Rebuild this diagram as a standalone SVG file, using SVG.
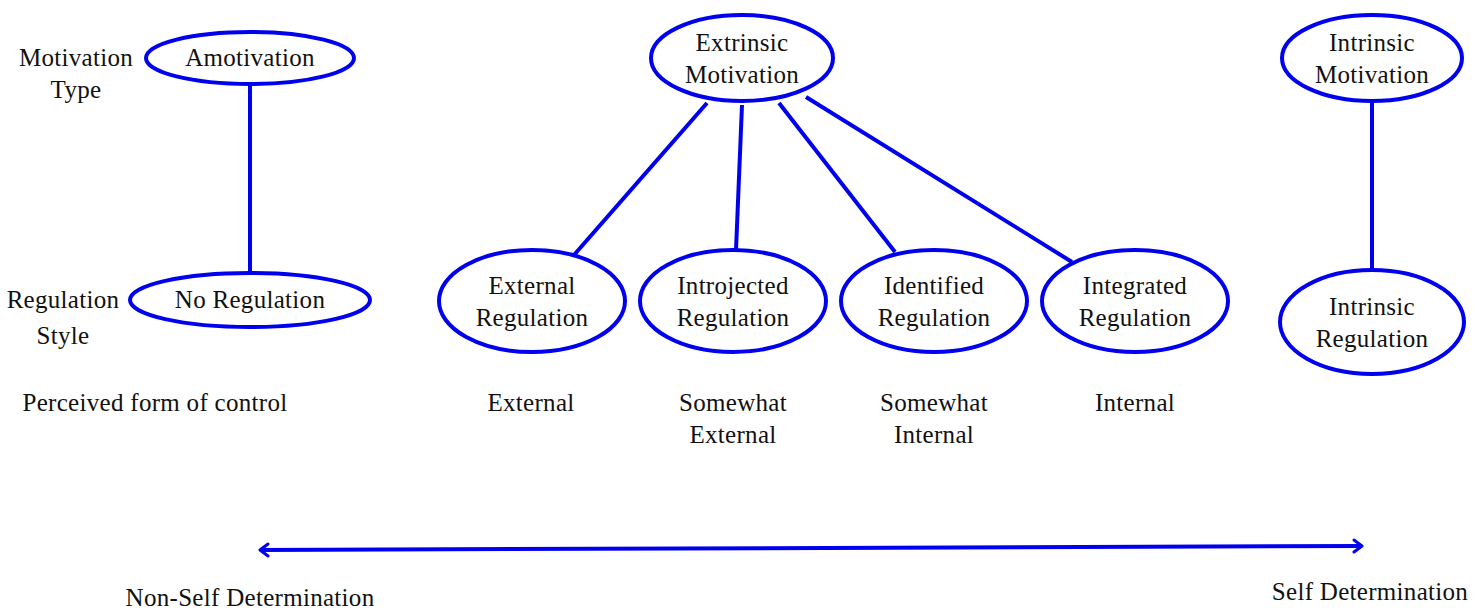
<svg xmlns="http://www.w3.org/2000/svg" width="1475" height="613" viewBox="0 0 1475 613">
  <style>
    .node ellipse { fill: #ffffff; stroke: #0000ee; stroke-width: 4; }
    .edge { stroke: #0000ee; stroke-width: 4; fill: none; }
    text { font-family: "Liberation Serif", "DejaVu Serif", serif; font-size: 25px; letter-spacing: 0.3px; fill: #111111; text-anchor: middle; }
  </style>
  <defs>
    <marker id="chev" viewBox="0 0 12 16" refX="10" refY="8" markerWidth="12" markerHeight="16" markerUnits="userSpaceOnUse" orient="auto-start-reverse">
      <path d="M2,2 L10,8 L2,14" fill="none" stroke="#0000ee" stroke-width="3" stroke-linecap="round" stroke-linejoin="round"/>
    </marker>
  </defs>
  <rect width="1475" height="613" fill="#ffffff"/>

  <!-- connectors -->
  <g id="connectors">
    <line class="edge" x1="250" y1="84" x2="250" y2="273"/>
    <line class="edge" x1="707" y1="103" x2="574" y2="255"/>
    <line class="edge" x1="742" y1="105" x2="736" y2="250"/>
    <line class="edge" x1="779" y1="103" x2="895" y2="252"/>
    <line class="edge" x1="806" y1="97" x2="1072" y2="262"/>
    <line class="edge" x1="1372" y1="101" x2="1372" y2="270"/>
    <line class="edge" x1="260" y1="550" x2="1362" y2="546" marker-start="url(#chev)" marker-end="url(#chev)"/>
  </g>

  <!-- row labels -->
  <g id="labels">
    <text x="76" y="66">Motivation</text>
    <text x="76" y="98">Type</text>
    <text x="63" y="308">Regulation</text>
    <text x="63" y="344">Style</text>
    <text x="155" y="411">Perceived form of control</text>
    <text x="531" y="411">External</text>
    <text x="733" y="411">Somewhat</text>
    <text x="733" y="443">External</text>
    <text x="934" y="411">Somewhat</text>
    <text x="934" y="443">Internal</text>
    <text x="1135" y="411">Internal</text>
    <text x="250" y="606">Non-Self Determination</text>
    <text x="1370" y="600">Self Determination</text>
  </g>

  <g id="amotivation" class="node">
    <ellipse cx="250" cy="58" rx="104" ry="26"/>
    <text x="250" y="66">Amotivation</text>
  </g>
  <g id="no-regulation" class="node">
    <ellipse cx="250" cy="300" rx="120" ry="27"/>
    <text x="250" y="308">No Regulation</text>
  </g>
  <g id="extrinsic-motivation" class="node">
    <ellipse cx="742" cy="58" rx="91" ry="43"/>
    <text x="742" y="51">Extrinsic</text>
    <text x="742" y="83">Motivation</text>
  </g>
  <g id="external-regulation" class="node">
    <ellipse cx="532" cy="301" rx="93" ry="51"/>
    <text x="532" y="294">External</text>
    <text x="532" y="326">Regulation</text>
  </g>
  <g id="introjected-regulation" class="node">
    <ellipse cx="733" cy="301" rx="93" ry="51"/>
    <text x="733" y="294">Introjected</text>
    <text x="733" y="326">Regulation</text>
  </g>
  <g id="identified-regulation" class="node">
    <ellipse cx="934" cy="301" rx="93" ry="51"/>
    <text x="934" y="294">Identified</text>
    <text x="934" y="326">Regulation</text>
  </g>
  <g id="integrated-regulation" class="node">
    <ellipse cx="1135" cy="301" rx="93" ry="51"/>
    <text x="1135" y="294">Integrated</text>
    <text x="1135" y="326">Regulation</text>
  </g>
  <g id="intrinsic-motivation" class="node">
    <ellipse cx="1372" cy="58" rx="90" ry="43"/>
    <text x="1372" y="51">Intrinsic</text>
    <text x="1372" y="83">Motivation</text>
  </g>
  <g id="intrinsic-regulation" class="node">
    <ellipse cx="1372" cy="322" rx="92" ry="52"/>
    <text x="1372" y="315">Intrinsic</text>
    <text x="1372" y="347">Regulation</text>
  </g>
</svg>
